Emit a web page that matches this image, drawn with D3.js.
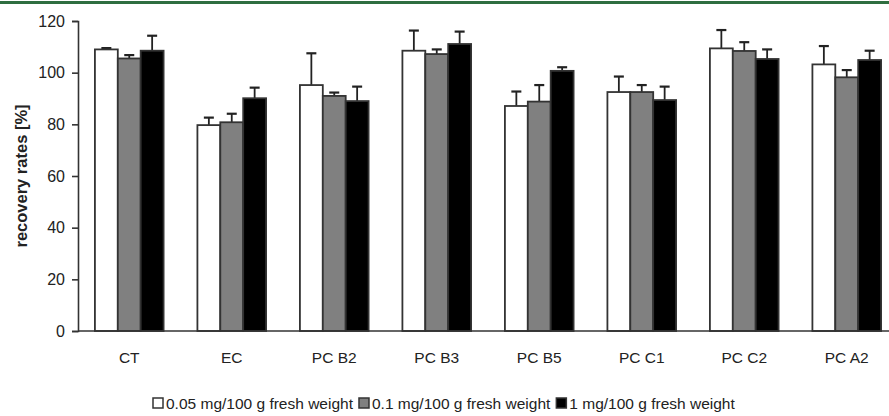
<!DOCTYPE html>
<html lang="en">
<head>
<meta charset="utf-8">
<title>recovery rates</title>
<script src="https://cdn.jsdelivr.net/npm/d3@7"></script>
<style>
  body { margin: 0; background: #fff; }
  svg text { font-family: "Liberation Sans", Arial, sans-serif; fill: #222; }
</style>
</head>
<body>
<div id="vis"></div>
<script>
// categories and series
var categories = ["CT", "EC", "PC B2", "PC B3", "PC B5", "PC C1", "PC C2", "PC A2"];
var seriesNames = ["0.05 mg/100 g fresh weight", "0.1 mg/100 g fresh weight", "1 mg/100 g fresh weight"];
var low    = [109.0, 79.7, 95.2, 108.5, 87.1, 92.5, 109.4, 103.2];
var mid    = [105.5, 80.8, 91.0, 107.2, 88.8, 92.5, 108.4, 98.2];
var high   = [108.5, 90.1, 89.0, 111.1, 100.7, 89.4, 105.3, 104.9];
var lowErr  = [0.5, 2.9, 12.3, 7.8, 5.6, 6.0, 7.1, 7.1];
var midErr  = [1.3, 3.3, 1.3, 1.8, 6.4, 2.7, 3.4, 2.8];
var highErr = [5.8, 4.1, 5.6, 4.8, 1.4, 5.2, 3.7, 3.6];
var yTicks = [0, 20, 40, 60, 80, 100, 120];

var series = [
  {name: seriesNames[0], values: low, errs: lowErr, fill: "#ffffff"},
  {name: seriesNames[1], values: mid, errs: midErr, fill: "#808080"},
  {name: seriesNames[2], values: high, errs: highErr, fill: "#000000"}
];

var width = 889, height = 416;
var svg = d3.select("#vis").append("svg").attr("width", width).attr("height", height);

// green rule at top
svg.append("rect").attr("x", 0).attr("y", 1).attr("width", width).attr("height", 3).attr("fill", "#2f6e40");

var x0 = d3.scaleBand().domain(categories).range([78, 898]).paddingInner(0.33).paddingOuter(0.165);
var x1 = d3.scaleBand().domain(d3.range(series.length)).range([0, x0.bandwidth()]);
var y = d3.scaleLinear().domain([0, 120]).range([331, 21]);

// bars
var groups = svg.selectAll("g.grp").data(categories).enter().append("g")
  .attr("class", "grp")
  .attr("transform", function(d) { return "translate(" + x0(d) + ",0)"; });

series.forEach(function(s, si) {
  var cx = x1(si) + x1.bandwidth() / 2;
  groups.append("line")
    .attr("x1", cx).attr("x2", cx)
    .attr("y1", function(d, i) { return y(s.values[i]); })
    .attr("y2", function(d, i) { return y(s.values[i] + s.errs[i]); })
    .attr("stroke", "#222").attr("stroke-width", 1.8);
  groups.append("line")
    .attr("x1", cx - 5).attr("x2", cx + 5)
    .attr("y1", function(d, i) { return y(s.values[i] + s.errs[i]); })
    .attr("y2", function(d, i) { return y(s.values[i] + s.errs[i]); })
    .attr("stroke", "#222").attr("stroke-width", 2.2);
  groups.append("rect")
    .attr("x", x1(si))
    .attr("width", x1.bandwidth())
    .attr("y", function(d, i) { return y(s.values[i]); })
    .attr("height", function(d, i) { return y(0) - y(s.values[i]); })
    .attr("fill", s.fill)
    .attr("stroke", "#333").attr("stroke-width", 1.8);
});

// y axis
var yAxis = svg.append("g").attr("transform", "translate(78,0)")
  .call(d3.axisLeft(y).tickValues(yTicks).tickSize(6).tickPadding(7));
yAxis.select(".domain").attr("stroke", "#333").attr("stroke-width", 1.6);
yAxis.selectAll(".tick line").attr("stroke", "#333").attr("stroke-width", 1.6);
yAxis.selectAll(".tick text").style("font-size", "16px").attr("fill", "#222");

// x axis line
svg.append("line").attr("x1", 78).attr("x2", width).attr("y1", y(0)).attr("y2", y(0))
  .attr("stroke", "#333").attr("stroke-width", 1.6);

svg.selectAll("text.cat").data(categories).enter().append("text")
  .attr("class", "cat")
  .attr("x", function(d) { return x0(d) + x0.bandwidth() / 2; })
  .attr("y", 363)
  .attr("text-anchor", "middle")
  .style("font-size", "15.5px")
  .text(function(d) { return d; });

svg.append("text")
  .attr("transform", "translate(27,176) rotate(-90)")
  .attr("text-anchor", "middle")
  .style("font-size", "16.5px").style("font-weight", "bold")
  .text("recovery rates [%]");

// legend
var legend = svg.append("g").attr("transform", "translate(153,409)");
var lx = 0;
series.forEach(function(s) {
  legend.append("rect").attr("x", lx).attr("y", -11).attr("width", 10).attr("height", 10)
    .attr("fill", s.fill).attr("stroke", "#333").attr("stroke-width", 1.5);
  var t = legend.append("text").attr("x", lx + 13).attr("y", 0)
    .style("font-size", "15.5px").text(s.name);
  lx += 13 + t.node().getComputedTextLength() + 6;
});
</script>
</body>
</html>
